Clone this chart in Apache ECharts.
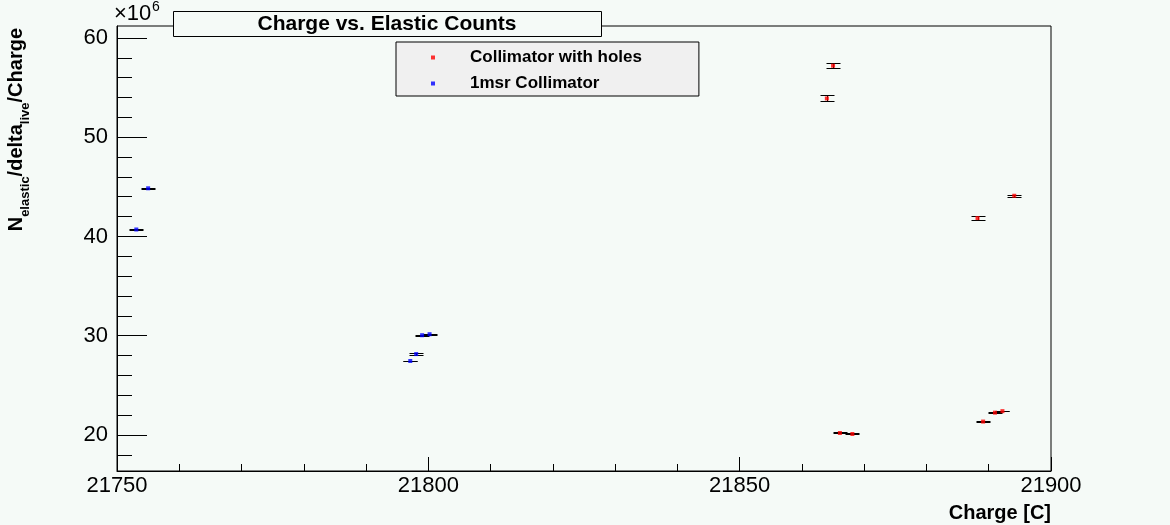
<!DOCTYPE html>
<html>
<head>
<meta charset="utf-8">
<title>Charge vs. Elastic Counts</title>
<script src="https://cdn.jsdelivr.net/npm/echarts@6/dist/echarts.min.js"></script>
<style>
  html, body { margin: 0; padding: 0; background: #f5faf7; }
  #main { width: 1170px; height: 525px; }
</style>
</head>
<body>
<div id="main"></div>
<script>
// charge [C] vs N_elastic/delta_live/Charge (in units of 1e6), with y errors
const holesCharge = [21865.0, 21864.0, 21866.1, 21868.1, 21888.2, 21894.1, 21889.1, 21891.0, 21892.2]
const holesValue = [57.2, 53.9, 20.2, 20.1, 41.85, 44.1, 21.35, 22.25, 22.4]
const holesErr = [0.25, 0.3, 0.05, 0.05, 0.2, 0.08, 0.08, 0.08, 0.03]

const msrCharge = [21753.1, 21755.0, 21799.0, 21800.2, 21798.05, 21797.1]
const msrValue = [40.7, 44.85, 30.05, 30.15, 28.15, 27.45]
const msrErr = [0.08, 0.05, 0.03, 0.03, 0.08, 0.03]

const yMajorTicks = [20, 30, 40, 50, 60]
const yMinorTicks = [18, 22, 24, 26, 28, 32, 34, 36, 38, 42, 44, 46, 48, 52, 54, 56, 58]

const FONT = 'Liberation Sans, Arial, Helvetica, sans-serif'
const BG = '#f5faf7'

const chart = echarts.init(document.getElementById('main'))

function pack (xs, ys, es) {
  return xs.map((x, i) => [x, ys[i], es[i]])
}

// ROOT style error bar: caps at y +- err joined by a vertical line
function errorBarItem (params, api) {
  const x = api.value(0)
  const y = api.value(1)
  const e = api.value(2)
  const top = api.coord([x, y + e])
  const bot = api.coord([x, y - e])
  const hw = 7
  const cx = Math.round(top[0]) + 0.5
  const ty = Math.round(top[1]) + 0.5
  const by = Math.round(bot[1]) + 0.5
  const style = { stroke: '#000', lineWidth: 1 }
  return {
    type: 'group',
    children: [
      { type: 'line', shape: { x1: cx - hw, y1: ty, x2: cx + hw, y2: ty }, style },
      { type: 'line', shape: { x1: cx - hw, y1: by, x2: cx + hw, y2: by }, style },
      { type: 'line', shape: { x1: cx, y1: ty, x2: cx, y2: by }, style }
    ]
  }
}

const yRange = { min: 16.37, max: 61.2 }

const option = {
  backgroundColor: BG,
  animation: false,
  textStyle: { fontFamily: FONT },
  grid: {
    left: 117,
    right: 119,
    top: 26,
    bottom: 54,
    show: true,
    borderColor: '#000',
    borderWidth: 1,
    backgroundColor: BG
  },
  legend: {
    orient: 'vertical',
    left: 396,
    top: 42,
    padding: [3, 57, 0, 35],
    itemGap: 1,
    itemWidth: 4,
    itemHeight: 4,
    selectedMode: false,
    backgroundColor: '#f0f0f0',
    borderColor: '#000',
    borderWidth: 1,
    borderRadius: 0,
    data: ['Collimator with holes', '1msr Collimator'],
    textStyle: {
      fontFamily: FONT,
      fontSize: 17,
      fontWeight: 'bold',
      color: '#000',
      lineHeight: 25,
      padding: [0, 0, 0, 30]
    }
  },
  xAxis: {
    type: 'value',
    min: 21750,
    max: 21900,
    interval: 50,
    axisLine: { lineStyle: { color: '#000', width: 1 } },
    axisTick: { inside: true, length: 14, lineStyle: { color: '#000' } },
    minorTick: { show: true, splitNumber: 5, length: 7, lineStyle: { color: '#000' } },
    axisLabel: {
      color: '#000',
      fontSize: 22,
      margin: 4,
      fontFamily: FONT,
      formatter: (v) => String(v)
    },
    splitLine: { show: false }
  },
  yAxis: [
    {
      type: 'value',
      min: yRange.min,
      max: yRange.max,
      position: 'left',
      axisLine: { show: true, lineStyle: { color: '#000', width: 1 } },
      axisTick: { inside: true, length: 30, customValues: yMajorTicks, lineStyle: { color: '#000' } },
      axisLabel: { color: '#000', fontSize: 22, margin: 9, customValues: yMajorTicks, fontFamily: FONT },
      splitLine: { show: false }
    },
    {
      type: 'value',
      min: yRange.min,
      max: yRange.max,
      position: 'left',
      axisLine: { show: false },
      axisTick: { show: true, inside: true, length: 15, customValues: yMinorTicks, lineStyle: { color: '#000' } },
      axisLabel: { show: false },
      splitLine: { show: false }
    }
  ],
  series: [
    {
      type: 'custom',
      name: 'holes errors',
      renderItem: errorBarItem,
      encode: { x: 0, y: 1 },
      data: pack(holesCharge, holesValue, holesErr),
      z: 2
    },
    {
      type: 'custom',
      name: 'msr errors',
      renderItem: errorBarItem,
      encode: { x: 0, y: 1 },
      data: pack(msrCharge, msrValue, msrErr),
      z: 2
    },
    {
      type: 'scatter',
      name: 'Collimator with holes',
      symbol: 'rect',
      symbolSize: 4,
      itemStyle: { color: '#ff0000' },
      data: holesCharge.map((x, i) => [x, holesValue[i]]),
      z: 3
    },
    {
      type: 'scatter',
      name: '1msr Collimator',
      symbol: 'rect',
      symbolSize: 4,
      itemStyle: { color: '#0000ff' },
      data: msrCharge.map((x, i) => [x, msrValue[i]]),
      z: 3
    }
  ],
  graphic: [
    {
      type: 'rect',
      shape: { x: 173.5, y: 11.5, width: 428, height: 25 },
      style: { fill: BG, stroke: '#000', lineWidth: 1 },
      z: 10
    },
    {
      type: 'text',
      x: 387,
      y: 24,
      z: 11,
      style: {
        text: 'Charge vs. Elastic Counts',
        font: 'bold 21px ' + FONT,
        fill: '#000',
        align: 'center',
        verticalAlign: 'middle'
      }
    },
    {
      type: 'text',
      x: 114,
      y: 14,
      z: 11,
      style: {
        text: '×10',
        font: '22px ' + FONT,
        fill: '#000',
        align: 'left',
        verticalAlign: 'middle'
      }
    },
    {
      type: 'text',
      x: 152,
      y: 7,
      z: 11,
      style: {
        text: '6',
        font: '14px ' + FONT,
        fill: '#000',
        align: 'left',
        verticalAlign: 'middle'
      }
    },
    {
      type: 'text',
      x: 19,
      y: 28,
      rotation: Math.PI / 2,
      z: 11,
      style: {
        text: '{m|N}{s|elastic}{m|/delta}{s|live}{m|/Charge}',
        align: 'right',
        verticalAlign: 'middle',
        rich: {
          m: { fontFamily: FONT, fontSize: 20, fontWeight: 'bold', fill: '#000', lineHeight: 26, verticalAlign: 'top' },
          s: { fontFamily: FONT, fontSize: 13, fontWeight: 'bold', fill: '#000', lineHeight: 26, verticalAlign: 'bottom' }
        }
      }
    },
    {
      type: 'text',
      x: 1051,
      y: 513,
      z: 11,
      style: {
        text: 'Charge [C]',
        font: 'bold 20px ' + FONT,
        fill: '#000',
        align: 'right',
        verticalAlign: 'middle'
      }
    }
  ]
}

chart.setOption(option)
</script>
</body>
</html>
